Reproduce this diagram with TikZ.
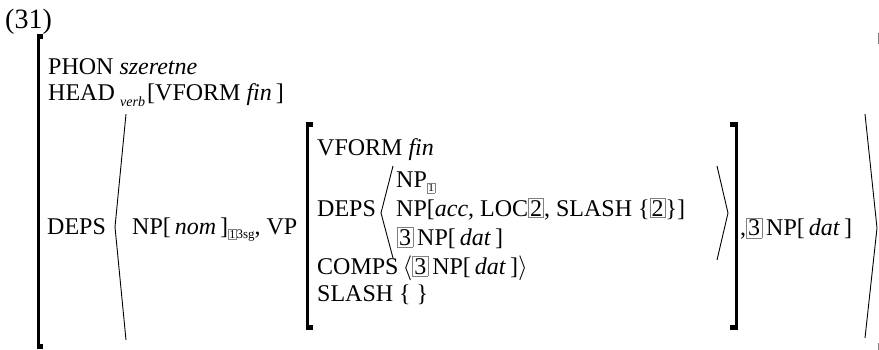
\documentclass[tikz,border=0pt]{standalone}
\usepackage{fontspec}
\setmainfont{Liberation Serif}
\newcommand\tagbx[1]{{\setlength{\fboxsep}{1.3pt}\setlength{\fboxrule}{0.7pt}\fcolorbox{gray}{white}{#1}}}
\newcommand\stagbx[1]{{\fontsize{12}{12}\selectfont\setlength{\fboxsep}{0.6pt}\setlength{\fboxrule}{0.6pt}\fcolorbox{gray}{white}{#1}}}
\tikzset{
  txt/.style={anchor=base west, inner sep=0pt, font=\fontsize{24}{28}\selectfont},
  sub/.style={anchor=base west, inner sep=0pt, font=\fontsize{14}{14}\selectfont\itshape},
  brk/.style={line width=3pt},
  tick/.style={fill=black},
  ang/.style={line width=0.9pt, line join=miter},
}
\begin{document}
\begin{tikzpicture}[x=1pt,y=-1pt]
\useasboundingbox (0,0) rectangle (879,350);
% example number
\node[anchor=base west, inner sep=0pt, font=\fontsize{28}{28}\selectfont] (num) at (5,29) {(31)};
% outer left bracket
\draw[brk] (38.5,34) -- (38.5,349);
\fill[tick] (37,34) rectangle (43,39);
\fill[tick] (37,344) rectangle (43,349);
% outer right bracket (cropped at the edge)
\draw[gray, line width=1pt] (878.5,33) -- (878.5,44);
\draw[gray, line width=1pt] (878.5,343) -- (878.5,350);
% top rows
\node[txt] (phon) at (48,75) {PHON \textit{szeretne}};
\node[txt] (head) at (48,101) {HEAD};
\node[sub] (verb) at (120,107) {verb};
\node[txt] (headval) at (147,101) {[VFORM \textit{fin}\,]};
% DEPS row
\node[txt] (deps) at (47,234) {DEPS};
\draw[ang] (126,114) -- (115,227) -- (126,340);
\node[txt] (np) at (132,234) {NP[\,\textit{nom}\,]\raisebox{-4pt}{\stagbx{1}{\fontsize{13}{13}\selectfont 3sg}}, VP};
% inner left bracket
\draw[brk] (307.5,123) -- (307.5,329);
\fill[tick] (306,122) rectangle (313,127);
\fill[tick] (306,325) rectangle (313,330);
% inner right bracket
\draw[brk] (736.5,123) -- (736.5,329);
\fill[tick] (730,122) rectangle (738,127);
\fill[tick] (730,325) rectangle (738,330);
% inner AVM
\node[txt] (vform) at (317,156) {VFORM \textit{fin}};
\node[txt] (ideps) at (317,216) {DEPS};
\draw[ang] (393,166) -- (381,213) -- (393,258);
\node[txt] (np1) at (396,188) {NP\raisebox{-4pt}{\stagbx{1}}};
\node[txt] (npacc) at (396,216) {NP[\textit{acc}, LOC\tagbx{2}, SLASH \{\tagbx{2}\}]};
\node[txt] (np3) at (397,245) {\tagbx{3}\,NP[\,\textit{dat}\,]};
\draw[ang] (717,166) -- (728,213) -- (717,260);
\node[txt] (comps) at (317,274) {COMPS\,$\langle$\tagbx{3}\,NP[\,\textit{dat}\,]$\rangle$};
\node[txt] (slash) at (317,301) {SLASH \{ \}};
% after inner AVM
\node[txt] (np3b) at (740,236) {,\tagbx{3}\,NP[\,\textit{dat}\,]};
\draw[ang] (865,114) -- (877,228) -- (865,338);
\end{tikzpicture}
\end{document}
